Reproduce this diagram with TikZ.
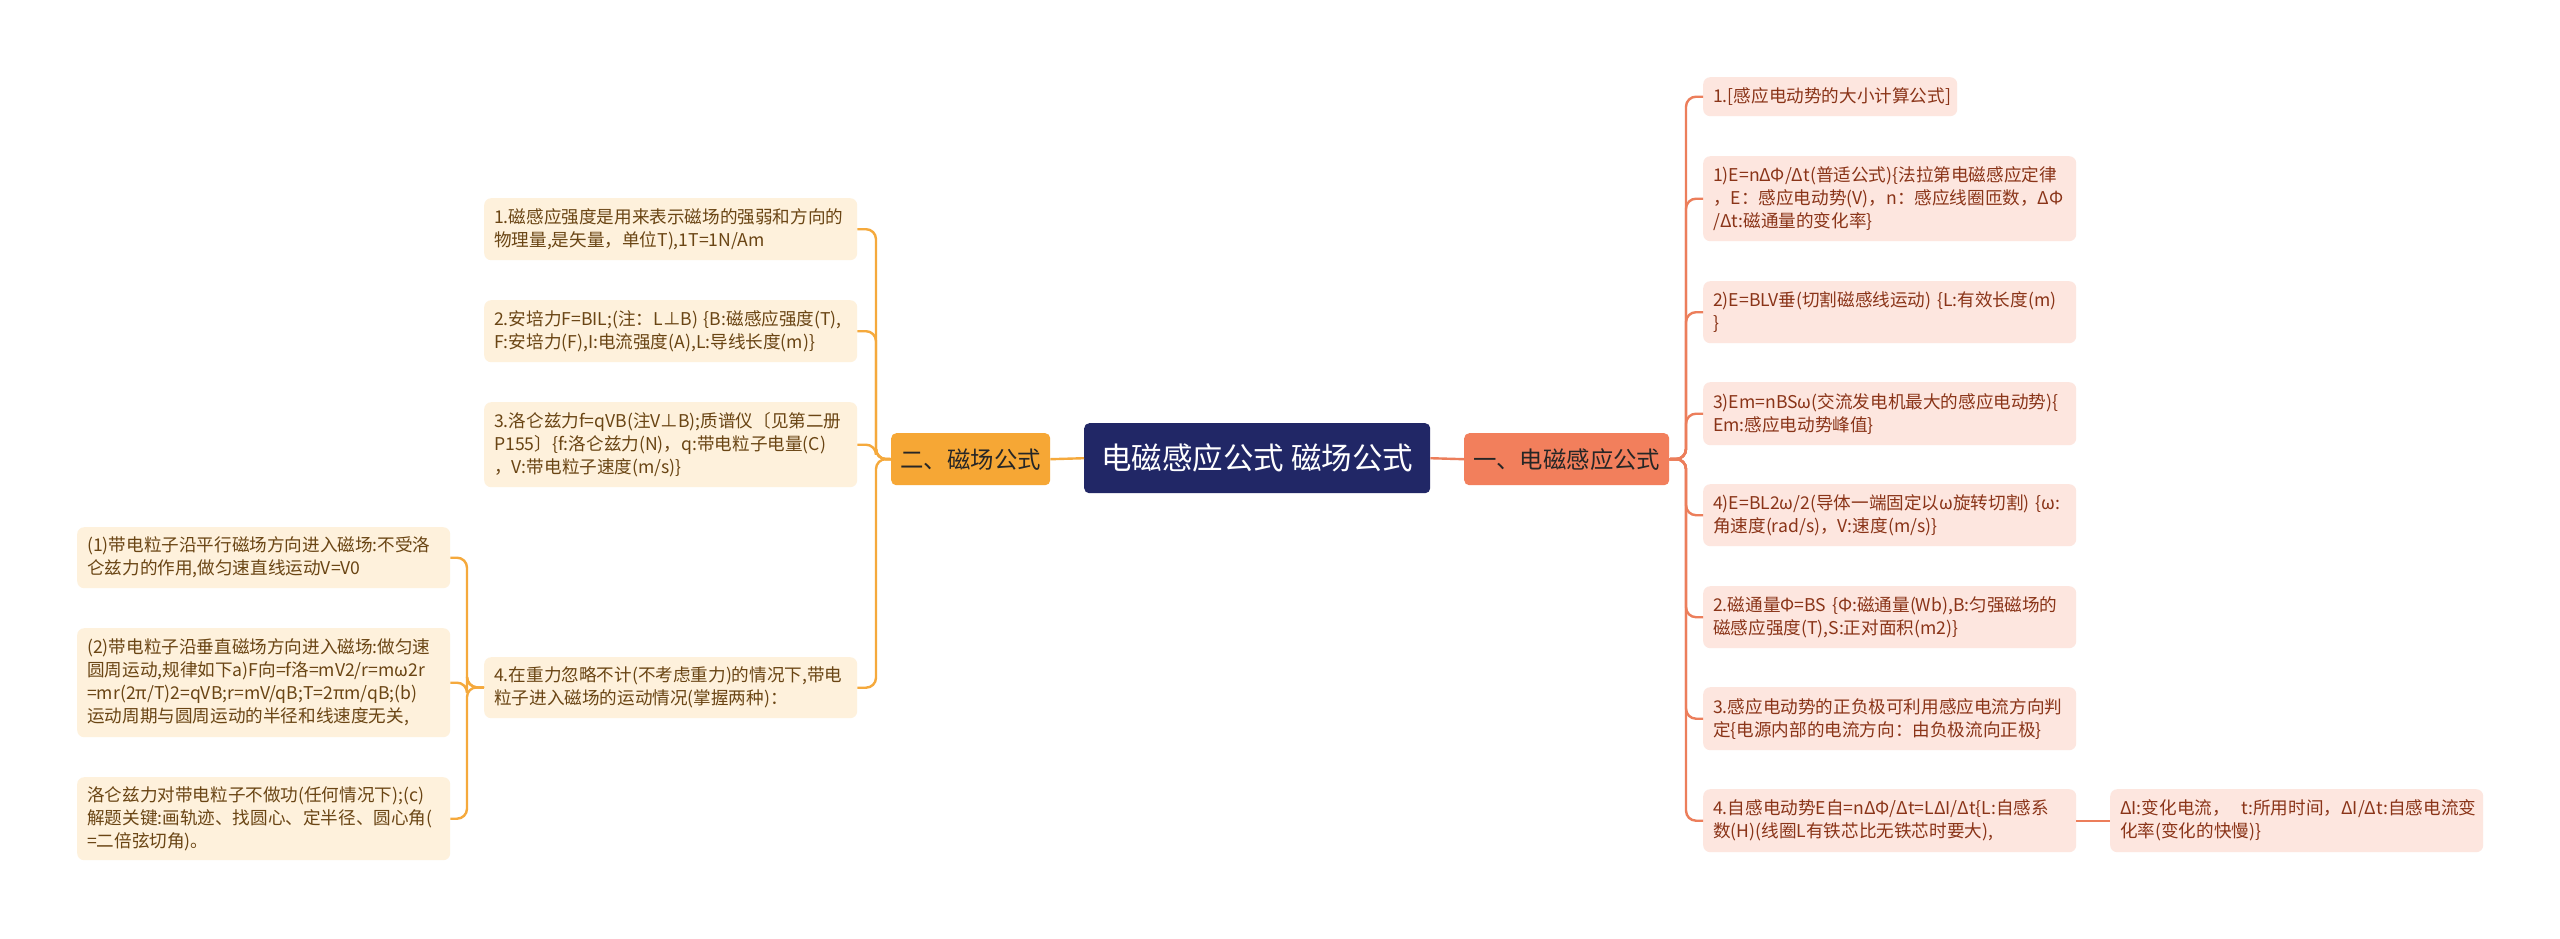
\documentclass[tikz,border=0pt]{standalone}
\usepackage{fontspec}
\setmainfont{Noto Sans CJK SC}
\definecolor{navy}{HTML}{212766}
\definecolor{orgN}{HTML}{F6A735}
\definecolor{salN}{HTML}{F27F5C}
\definecolor{fillL}{HTML}{FEF1DC}
\definecolor{txtL}{HTML}{6A4514}
\definecolor{fillR}{HTML}{FDE6DF}
\definecolor{txtR}{HTML}{8A3418}
\definecolor{lineL}{HTML}{F5A93C}
\definecolor{lineR}{HTML}{EC7E5B}
\tikzset{
  leaf/.style={anchor=north west, rounded corners=7pt, inner xsep=10pt, inner ysep=0pt,
    text width=353pt, align=left, font=\fontsize{17.6}{23}\selectfont},
  leafL/.style={leaf, fill=fillL, text=txtL},
  leafR/.style={leaf, fill=fillR, text=txtR},
  mainbox/.style={anchor=north west, rounded corners=5pt, inner sep=0pt,
    font=\fontsize{23.4}{28}\selectfont, text=black!85},
  connL/.style={draw=lineL, line width=2.4pt, rounded corners=10pt},
  connR/.style={draw=lineR, line width=2.4pt, rounded corners=10pt},
}
\begin{document}
\begin{tikzpicture}[x=1pt,y=-1pt]
\useasboundingbox[fill=white] (0,0) rectangle (2560,938);
% center and main branches
\node[anchor=north west, fill=navy, rounded corners=5pt, minimum width=346pt, minimum height=70pt,
  text=white, font=\fontsize{30.5}{36}\selectfont] (c) at (1084,423) {电磁感应公式 磁场公式};
\node[mainbox, fill=orgN, minimum width=159pt, minimum height=52pt] (er) at (891,433) {二、磁场公式};
\node[mainbox, fill=salN, minimum width=205pt, minimum height=52pt] (yi) at (1464,433) {一、电磁感应公式};
% left leaves
\node[leafL, minimum height=62pt] (L1) at (484,198) {1.磁感应强度是用来表示磁场的强弱和方向的\\物理量,是矢量，单位T),1T=1N/Am};
\node[leafL, minimum height=62pt] (L2) at (484,300) {2.安培力F=BIL;(注：L⊥B)~\{B:磁感应强度(T),\\F:安培力(F),I:电流强度(A),L:导线长度(m)\}};
\node[leafL, minimum height=85pt] (L3) at (484,402) {3.洛仑兹力f=qVB(注V⊥B);质谱仪〔见第二册\\P155〕\{f:洛仑兹力(N)，q:带电粒子电量(C)\\，V:带电粒子速度(m/s)\}};
\node[leafL, minimum height=61pt] (L4) at (484,657) {4.在重力忽略不计(不考虑重力)的情况下,带电\\粒子进入磁场的运动情况(掌握两种)：};
\node[leafL, minimum height=61pt] (LL1) at (77,527) {(1)带电粒子沿平行磁场方向进入磁场:不受洛\\仑兹力的作用,做匀速直线运动V=V0};
\node[leafL, minimum height=109pt] (LL2) at (77,628) {(2)带电粒子沿垂直磁场方向进入磁场:做匀速\\圆周运动,规律如下a)F向=f洛=mV2/r=mω2r\\=mr(2π/T)2=qVB;r=mV/qB;T=2πm/qB;(b)\\运动周期与圆周运动的半径和线速度无关,};
\node[leafL, minimum height=83pt] (LL3) at (77,777) {洛仑兹力对带电粒子不做功(任何情况下);(c)\\解题关键:画轨迹、找圆心、定半径、圆心角(\\=二倍弦切角)。};
% right leaves
\node[leafR, text width=234pt, minimum height=39pt] (R1) at (1703,77) {1.[感应电动势的大小计算公式]};
\node[leafR, minimum height=85pt] (R2) at (1703,156) {1)E=nΔΦ/Δt(普适公式)\{法拉第电磁感应定律\\，E：感应电动势(V)，n：感应线圈匝数，ΔΦ\\/Δt:磁通量的变化率\}};
\node[leafR, minimum height=62pt] (R3) at (1703,281) {2)E=BLV垂(切割磁感线运动)~\{L:有效长度(m)\\\}};
\node[leafR, minimum height=63pt] (R4) at (1703,382) {3)Em=nBSω(交流发电机最大的感应电动势)\{\\Em:感应电动势峰值\}};
\node[leafR, minimum height=62pt] (R5) at (1703,484) {4)E=BL2ω/2(导体一端固定以ω旋转切割)~\{ω:\\角速度(rad/s)，V:速度(m/s)\}};
\node[leafR, minimum height=62pt] (R6) at (1703,586) {2.磁通量Φ=BS~\{Φ:磁通量(Wb),B:匀强磁场的\\磁感应强度(T),S:正对面积(m2)\}};
\node[leafR, minimum height=63pt] (R7) at (1703,687) {3.感应电动势的正负极可利用感应电流方向判\\定\{电源内部的电流方向：由负极流向正极\}};
\node[leafR, minimum height=63pt] (R8) at (1703,789) {4.自感电动势E自=nΔΦ/Δt=LΔI/Δt\{L:自感系\\数(H)(线圈L有铁芯比无铁芯时要大),};
\node[leafR, minimum height=63pt] (RR) at (2110,789) {ΔI:变化电流，~~t:所用时间，ΔI/Δt:自感电流变\\化率(变化的快慢)\}};
% connectors
\coordinate (jL) at (876,459);
\coordinate (jR) at (1686,459);
\coordinate (jLL) at (467,687);
\draw[connL] (c.west) -- (er.east);
\draw[connR] (c.east) -- (yi.west);
\foreach \n in {L1,L2,L3,L4} \draw[connL] (er.west) -- (jL) |- (\n.east);
\foreach \n in {R1,R2,R3,R4,R5,R6,R7,R8} \draw[connR] (yi.east) -- (jR) |- (\n.west);
\foreach \n in {LL1,LL2,LL3} \draw[connL] (L4.west) -- (jLL) |- (\n.east);
\draw[connR] (R8.east) -- (RR.west);
\end{tikzpicture}
\end{document}
